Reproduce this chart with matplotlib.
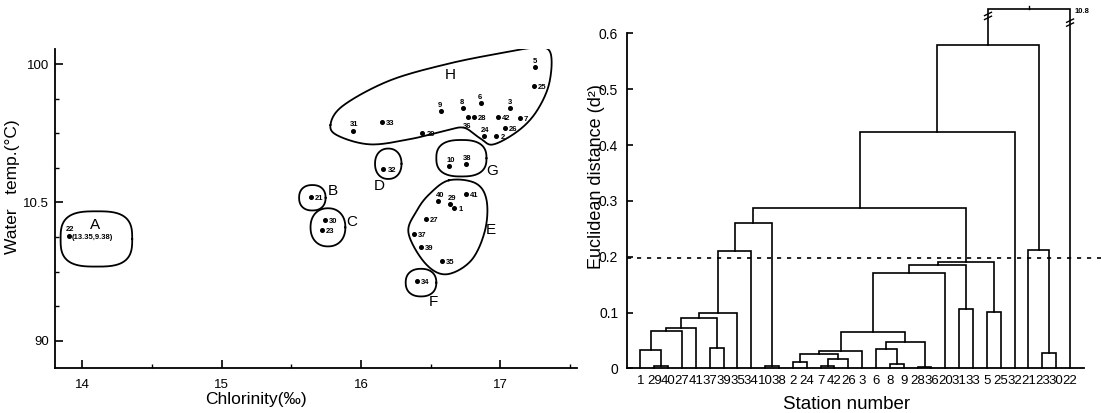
import numpy as np
import matplotlib
matplotlib.use("Agg")
import matplotlib.pyplot as plt
from matplotlib.ticker import MultipleLocator

plt.rcParams['font.family'] = ['Liberation Sans', 'DejaVu Sans']

# ---------------- data: scatter (chlorinity vs water temp) ----------------
stations = ['22', '21', '30', '23', '32', '10', '38', '40', '29', '1', '41', '27',
            '37', '39', '35', '34', '31', '33', '20', '9', '8', '6', '3', '36',
            '28', '42', '7', '26', '24', '2', '5', '25']
chlorinity = [13.90, 15.64, 15.74, 15.72, 16.16, 16.63, 16.75, 16.555, 16.64, 16.67,
              16.75, 16.465, 16.38, 16.43, 16.58, 16.40, 15.94, 16.15, 16.44, 16.57,
              16.73, 16.86, 17.07, 16.77, 16.81, 16.98, 17.14, 17.03, 16.88, 16.97,
              17.25, 17.24]
water_temp = [10.38, 10.52, 10.437, 10.40, 10.62, 10.633, 10.64, 10.504, 10.495, 10.48,
              10.53, 10.44, 10.385, 10.34, 10.29, 10.217, 10.76, 10.79, 10.75, 10.83,
              10.84, 10.86, 10.84, 10.81, 10.81, 10.81, 10.805, 10.77, 10.74, 10.74,
              10.99, 10.92]
label_side = ['a', 'r', 'r', 'r', 'r', 'a', 'a', 'a', 'a', 'r', 'r', 'r',
              'r', 'r', 'r', 'r', 'a', 'r', 'r', 'a', 'a', 'a', 'a', 'b',
              'r', 'r', 'r', 'r', 'a', 'r', 'a', 'r']

# cluster letters and outline shapes
group_names = ['A', 'B', 'C', 'D', 'E', 'F', 'G', 'H']
group_label_x = [14.09, 15.80, 15.93, 16.13, 16.93, 16.52, 16.94, 16.64]
group_label_y = [10.42, 10.54, 10.43, 10.56, 10.40, 10.14, 10.615, 10.96]

# simple groups: centre, half width, half height, squareness
blob_names = ['A', 'B', 'C', 'D', 'F', 'G']
blob_cx = [14.10, 15.65, 15.762, 16.195, 16.43, 16.72]
blob_cy = [10.368, 10.517, 10.41, 10.64, 10.21, 10.66]
blob_a = [0.257, 0.095, 0.125, 0.095, 0.11, 0.18]
blob_b = [0.100, 0.046, 0.069, 0.055, 0.05, 0.066]
blob_n = [3.0, 2.3, 2.2, 2.2, 2.3, 2.6]

# irregular outlines (E and H)
E_x = [16.63, 16.82, 16.90, 16.89, 16.79, 16.61, 16.46, 16.34, 16.40, 16.49]
E_y = [10.58, 10.57, 10.51, 10.40, 10.29, 10.24, 10.28, 10.39, 10.47, 10.53]
H_x = [15.78, 15.87, 16.20, 16.61, 17.00, 17.26, 17.36, 17.35, 17.26, 17.13,
       16.95, 16.86, 16.74, 16.61, 16.36, 16.07, 15.84]
H_y = [10.78, 10.85, 10.94, 11.00, 11.04, 11.06, 11.04, 10.93, 10.83, 10.76,
       10.71, 10.73, 10.77, 10.76, 10.73, 10.71, 10.74]

# ---------------- data: dendrogram ----------------
leaves = ['1', '29', '40', '27', '41', '37', '39', '35', '34', '10', '38', '2', '24',
          '7', '42', '26', '3', '6', '8', '9', '28', '36', '20', '31', '33', '5', '25',
          '32', '21', '23', '30', '22']
# (child a, child b, distance); m<k> is the k-th merge
merges = [('29', '40', 0.004), ('1', 'm0', 0.033), ('m1', '27', 0.067), ('m2', '41', 0.072),
          ('37', '39', 0.037), ('m3', 'm4', 0.091), ('m5', '35', 0.100), ('m6', '34', 0.211),
          ('10', '38', 0.004), ('m7', 'm8', 0.261), ('2', '24', 0.011), ('7', '42', 0.004),
          ('m11', '26', 0.016), ('m10', 'm12', 0.026), ('m13', '3', 0.031), ('8', '9', 0.007),
          ('6', 'm15', 0.035), ('28', '36', 0.003), ('m16', 'm17', 0.047), ('m14', 'm18', 0.065),
          ('m19', '20', 0.170), ('31', '33', 0.107), ('m20', 'm21', 0.185), ('5', '25', 0.101),
          ('m22', 'm23', 0.191), ('m9', 'm24', 0.288), ('m25', '32', 0.423), ('23', '30', 0.028),
          ('21', 'm27', 0.212), ('m26', 'm28', 0.580), ('m29', '22', 10.8)]
cut_level = 0.198
broken_top = 0.643   # where the 10.8 link is drawn


def superellipse(cx, cy, a, b, n):
    t = np.linspace(0, 2 * np.pi, 300)
    c, s = np.cos(t), np.sin(t)
    return (cx + a * np.sign(c) * np.abs(c) ** (2 / n),
            cy + b * np.sign(s) * np.abs(s) ** (2 / n))


def smooth_closed(xs, ys, n=25):
    P = np.column_stack([xs, ys])
    N = len(P)
    t = np.linspace(0, 1, n, endpoint=False)[:, None]
    out = []
    for i in range(N):
        p0, p1, p2, p3 = P[i - 1], P[i], P[(i + 1) % N], P[(i + 2) % N]
        out.append(0.5 * (2 * p1 + (-p0 + p2) * t + (2 * p0 - 5 * p1 + 4 * p2 - p3) * t ** 2
                          + (-p0 + 3 * p1 - 3 * p2 + p3) * t ** 3))
    out = np.vstack(out + [out[0][:1]])
    return out[:, 0], out[:, 1]


fig = plt.figure(figsize=(11.01, 4.13), dpi=100)

#########################################################
# left panel
#########################################################
ax1 = fig.add_axes([0.0496, 0.1082, 0.4745, 0.7724])
ax1.set_xlim(13.80, 17.55)
ax1.set_ylim(9.90, 11.054)
ax1.spines['top'].set_visible(False)
ax1.spines['right'].set_visible(False)
for sp in ax1.spines.values():
    sp.set_linewidth(1.3)

ax1.plot(chlorinity, water_temp, 'ko', ms=2.6)
offsets = {'r': (3, -2.2), 'a': (-2, 3), 'b': (-4, -8)}
for s, x, y, side in zip(stations, chlorinity, water_temp, label_side):
    ax1.annotate(s, (x, y), xytext=offsets[side], textcoords='offset points',
                 fontsize=5.5, fontweight='bold')
ax1.annotate('(13.35,9.38)', (chlorinity[0], water_temp[0]), xytext=(2.5, -2.2),
             textcoords='offset points', fontsize=5.5, fontweight='bold')

for i in range(len(blob_names)):
    bx, by = superellipse(blob_cx[i], blob_cy[i], blob_a[i], blob_b[i], blob_n[i])
    ax1.plot(bx, by, 'k-', lw=1.3)
ex, ey = smooth_closed(E_x, E_y)
ax1.plot(ex, ey, 'k-', lw=1.3)
hx, hy = smooth_closed(H_x, H_y)
ax1.plot(hx, hy, 'k-', lw=1.3)

for g, x, y in zip(group_names, group_label_x, group_label_y):
    ax1.text(x, y, g, fontsize=11, ha='center', va='center')

ax1.set_xticks([14, 15, 16, 17])
ax1.xaxis.set_minor_locator(MultipleLocator(0.5))
ax1.set_yticks([10.0, 10.5, 11.0])
ax1.set_yticklabels(['90', '10.5', '100'])
ax1.yaxis.set_minor_locator(MultipleLocator(0.125))
ax1.tick_params(which='major', direction='in', length=6, width=1.2, labelsize=9.5, pad=8)
ax1.tick_params(which='minor', direction='in', length=3, width=1.0)
ax1.tick_params(axis='y', pad=4)
ax1.set_xlabel('Chlorinity(‰)', fontsize=12.5)
ax1.xaxis.set_label_coords(0.386, -0.075)
ax1.set_ylabel('Water   temp.(°C)', fontsize=12.5)
ax1.yaxis.set_label_coords(-0.067, 0.57)

#########################################################
# right panel - dendrogram
#########################################################
ax2 = fig.add_axes([0.5691, 0.1082, 0.4159, 0.8918])
ax2.set_xlim(-1.0, 32.04)
ax2.set_ylim(0, 0.66)
ax2.spines['top'].set_visible(False)
ax2.spines['right'].set_visible(False)
ax2.spines['left'].set_bounds(0, 0.6)
for sp in ax2.spines.values():
    sp.set_linewidth(1.3)

pos = {name: float(i) for i, name in enumerate(leaves)}
hgt = {name: 0.0 for name in leaves}
for k, (a, b, h) in enumerate(merges):
    hd = h if h < 1 else broken_top
    xa, xb = pos[a], pos[b]
    ax2.plot([xa, xa, xb, xb], [hgt[a], hd, hd, hgt[b]], 'k-', lw=1.2,
             clip_on=False, solid_joinstyle='miter')
    pos['m%d' % k] = (xa + xb) / 2
    hgt['m%d' % k] = hd

# break marks on the last link
last = 'm%d' % (len(merges) - 1)
a, b, _ = merges[-1]
for xv, yb in [(pos[a], 0.628), (pos[b], 0.616)]:
    for dy in (0.0, 0.007):
        ax2.plot([xv - 0.25, xv + 0.25], [yb + dy - 0.003, yb + dy + 0.003], 'k-', lw=1.0,
                 clip_on=False)
ax2.plot([pos[last], pos[last]], [broken_top, broken_top + 0.007], 'k-', lw=1.0, clip_on=False)
ax2.text(pos[b] + 0.3, broken_top - 0.004, '10.8', fontsize=5.5, fontweight='bold',
         va='center')

ax2.plot([-1.0, 33.2], [cut_level, cut_level], 'k', lw=1.2, ls=(0, (2.5, 3.5)),
         clip_on=False)

ax2.set_xticks(range(len(leaves)))
ax2.set_xticklabels(leaves, family=['Liberation Sans Narrow', 'Liberation Sans'])
ax2.tick_params(axis='x', length=0, labelsize=9.5, pad=5)
ax2.set_yticks([0, 0.1, 0.2, 0.3, 0.4, 0.5, 0.6])
ax2.set_yticklabels(['0', '0.1', '0.2', '0.3', '0.4', '0.5', '0.6'])
ax2.tick_params(axis='y', direction='in', length=4, width=1.2, labelsize=10, pad=6)
ax2.set_xlabel('Station number', fontsize=13.5)
ax2.xaxis.set_label_coords(0.48, -0.075)
ax2.set_ylabel('Euclidean distance (d²)', fontsize=13)
ax2.yaxis.set_label_coords(-0.047, 0.52)

fig.savefig('out.png', dpi=100)
